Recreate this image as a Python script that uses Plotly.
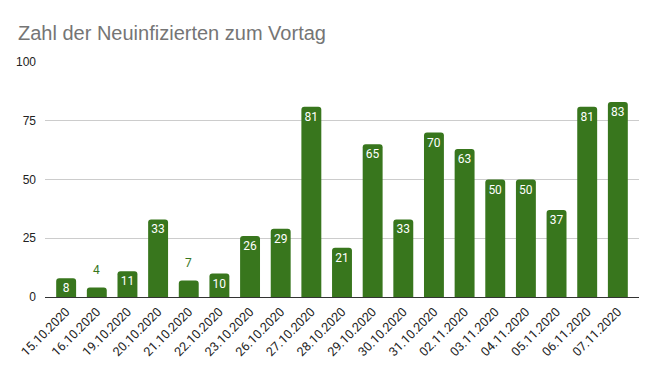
import plotly.graph_objects as go

dates = ["15.10.2020", "16.10.2020", "19.10.2020", "20.10.2020", "21.10.2020",
         "22.10.2020", "23.10.2020", "26.10.2020", "27.10.2020", "28.10.2020",
         "29.10.2020", "30.10.2020", "31.10.2020", "02.11.2020", "03.11.2020",
         "04.11.2020", "05.11.2020", "06.11.2020", "07.11.2020"]
values = [8, 4, 11, 33, 7, 10, 26, 29, 81, 21, 65, 33, 70, 63, 50, 50, 37, 81, 83]
y_ticks = [0, 25, 50, 75, 100]

green = "#38761d"
inside = [v >= 8 for v in values]

fig = go.Figure(go.Bar(
    x=dates, y=values, text=[str(v) if ins else "" for v, ins in zip(values, inside)],
    textposition="inside", insidetextanchor="end", textangle=0,
    insidetextfont=dict(color="white", size=12, family="Roboto"),
    constraintext="none", cliponaxis=False,
    marker=dict(color=green, cornerradius=3, line=dict(width=0)),
    width=0.65,
))

for d, v, ins in zip(dates, values, inside):
    if not ins:
        fig.add_annotation(x=d, y=v, text=str(v), showarrow=False, yanchor="middle",
                           yshift=18, font=dict(color=green, size=12, family="Roboto"))

fig.update_layout(
    width=657, height=371,
    margin=dict(l=45, r=18, t=62, b=74),
    paper_bgcolor="white", plot_bgcolor="white",
    title=dict(text="Zahl der Neuinfizierten zum Vortag", x=18/657, xanchor="left",
               y=1-33/371, yanchor="middle",
               font=dict(family="Arial", size=20, color="#757575")),
    showlegend=False,
    font=dict(family="Roboto", size=12, color="#222222"),
)
fig.update_xaxes(type="category", tickangle=-45, range=[-0.69, 18.69],
                 showgrid=False, showline=False, ticks="", ticklabelstandoff=4,
                 tickfont=dict(family="Roboto", size=12.5, color="#222222"))
fig.update_yaxes(range=[0, 100], tickvals=y_ticks, showgrid=True, gridcolor="#cccccc",
                 zeroline=True, zerolinecolor="#333333", zerolinewidth=1,
                 ticks="", ticklabelstandoff=8,
                 tickfont=dict(family="Arial", size=12, color="#222222"))

fig.write_html("out.html", config={"displayModeBar": False},
               post_script="document.body.style.margin='0';")
